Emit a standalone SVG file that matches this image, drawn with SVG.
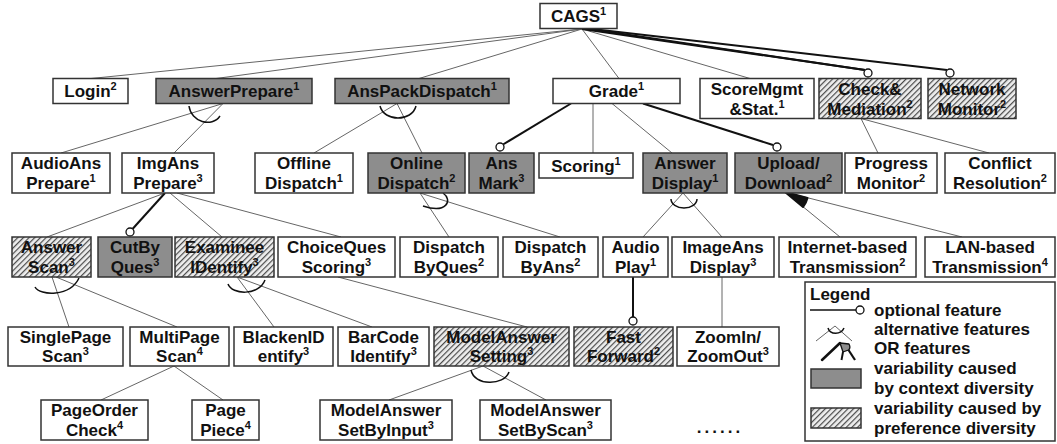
<svg xmlns="http://www.w3.org/2000/svg" width="1057" height="444" viewBox="0 0 1057 444">
<defs>
<pattern id="hatch" width="4" height="4" patternUnits="userSpaceOnUse" patternTransform="rotate(45)">
<rect width="4" height="4" fill="#eeeeee"/>
<line x1="0.6" y1="0" x2="0.6" y2="4" stroke="#4a4a4a" stroke-width="1.2"/>
</pattern>
<style>
.box{stroke:#333;stroke-width:1.5;fill:#fff}
.ctx{fill:#8d8d8d}
.pref{fill:url(#hatch)}
.t{font-family:"Liberation Sans",Arial,sans-serif;font-weight:bold;font-size:17px;text-anchor:middle;fill:#111}
.lg{font-family:"Liberation Sans",Arial,sans-serif;font-weight:bold;font-size:17px;fill:#111}
.sup{font-size:11px}
.thin{stroke:#666;stroke-width:1;fill:none}
.thick{stroke:#111;stroke-width:2;fill:none}
.opt{fill:#fff;stroke:#111;stroke-width:1.3}
.alt{stroke:#111;stroke-width:1.5;fill:none}
</style>
</defs>
<rect width="1057" height="444" fill="#fff"/>

<g id="connectors">
<line class="thin" x1="582" y1="29" x2="91" y2="78.5"/>
<line class="thin" x1="582" y1="29" x2="216" y2="78.5"/>
<line class="thin" x1="582" y1="29" x2="419" y2="78.5"/>
<line class="thin" x1="582" y1="29" x2="619" y2="78.5"/>
<line class="thin" x1="582" y1="29" x2="750" y2="78.5"/>
<line class="thick" x1="582" y1="29" x2="865" y2="70"/>
<line class="thick" x1="586" y1="28.5" x2="865" y2="70"/>
<line class="thick" x1="588" y1="28.5" x2="947" y2="70"/>
<circle class="opt" cx="868" cy="73" r="4"/>
<circle class="opt" cx="950" cy="73" r="4"/>

<line class="thin" x1="223" y1="103.5" x2="61" y2="153"/>
<line class="thin" x1="223" y1="103.5" x2="174" y2="153"/>
<path class="alt" d="M189,106 C191,122 212,128 220,116"/>

<line class="thin" x1="397" y1="103.5" x2="314" y2="153"/>
<line class="thin" x1="397" y1="103.5" x2="422" y2="153"/>
<path class="alt" d="M380,106 C384,122 412,122 416,106"/>

<line class="thick" x1="571" y1="103.5" x2="503" y2="144.5"/>
<circle class="opt" cx="500" cy="147" r="4"/>
<line class="thin" x1="593" y1="103.5" x2="593" y2="153"/>
<line class="thin" x1="612" y1="103.5" x2="672" y2="153"/>
<line class="thick" x1="643" y1="103.5" x2="773" y2="145"/>
<circle class="opt" cx="777" cy="147" r="4"/>

<line class="thin" x1="861" y1="118.5" x2="878" y2="153"/>
<line class="thin" x1="861" y1="118.5" x2="989" y2="153"/>

<line class="thin" x1="165" y1="193" x2="47" y2="237"/>
<line class="thick" x1="165" y1="193" x2="132.5" y2="229"/>
<circle class="opt" cx="130" cy="232" r="4"/>
<line class="thin" x1="170" y1="193" x2="222" y2="237"/>
<line class="thin" x1="177" y1="193" x2="341" y2="237"/>

<line class="thin" x1="420" y1="193" x2="449" y2="237"/>
<line class="thin" x1="420" y1="193" x2="560" y2="237"/>
<path class="alt" d="M443,193 C453,200 447,214 423,206"/>

<line class="thin" x1="683" y1="193" x2="643" y2="237"/>
<line class="thin" x1="683" y1="193" x2="722" y2="237"/>
<path class="alt" d="M671,199 A13,9 0 0,0 697,199"/>

<line class="thin" x1="785" y1="192" x2="840" y2="237"/>
<line class="thin" x1="785" y1="192" x2="962" y2="237"/>
<path d="M785,192 L803,207 A23,23 0 0,0 807.5,198 Z" fill="#111" stroke="#111" stroke-width="2" stroke-linejoin="round"/>

<line class="thick" x1="633" y1="277" x2="633" y2="317"/>
<circle class="opt" cx="633" cy="321" r="4"/>
<line class="thin" x1="722" y1="277" x2="722" y2="327"/>

<line class="thin" x1="338" y1="277" x2="527" y2="327"/>

<line class="thin" x1="52" y1="277" x2="69" y2="327"/>
<line class="thin" x1="56" y1="277" x2="177" y2="327"/>
<path class="alt" d="M35,287 C40,296 70,297 79,278"/>

<line class="thin" x1="237" y1="277" x2="274" y2="327"/>
<line class="thin" x1="237" y1="277" x2="372" y2="327"/>
<path class="alt" d="M228,284 C232,295 259,296 265,280"/>

<line class="thin" x1="483" y1="366" x2="389" y2="400"/>
<line class="thin" x1="483" y1="366" x2="546" y2="400"/>
<path class="alt" d="M471,370 C474,386 504,386 509,372"/>

<line class="thin" x1="174" y1="366" x2="101" y2="400"/>
<line class="thin" x1="174" y1="366" x2="223" y2="400"/>
</g>

<g id="n-cags"><rect class="box" x="540" y="3.5" width="77" height="25"/><text class="t" x="578.5" y="22">CAGS<tspan class="sup" dy="-7">1</tspan></text></g>

<g id="n-login"><rect class="box" x="53" y="78.5" width="75" height="25"/><text class="t" x="90.5" y="97">Login<tspan class="sup" dy="-7">2</tspan></text></g>
<g id="n-answerprepare"><rect class="box ctx" x="156" y="78.5" width="156" height="25"/><text class="t" x="234" y="97">AnswerPrepare<tspan class="sup" dy="-7">1</tspan></text></g>
<g id="n-anspackdispatch"><rect class="box ctx" x="335" y="78.5" width="174" height="25"/><text class="t" x="422" y="97">AnsPackDispatch<tspan class="sup" dy="-7">1</tspan></text></g>
<g id="n-grade"><rect class="box" x="553" y="78.5" width="127" height="25"/><text class="t" x="616.5" y="97">Grade<tspan class="sup" dy="-7">1</tspan></text></g>
<g id="n-scoremgmt"><rect class="box" x="700" y="78.5" width="114" height="40"/><text class="t" x="757" y="94.5">ScoreMgmt</text><text class="t" x="757" y="114.5">&amp;Stat.<tspan class="sup" dy="-7">1</tspan></text></g>
<g id="n-check"><rect class="box pref" x="819" y="78.5" width="102" height="40"/><text class="t" x="870" y="94.5">Check&amp;</text><text class="t" x="870" y="114.5">Mediation<tspan class="sup" dy="-7">2</tspan></text></g>
<g id="n-network"><rect class="box pref" x="928" y="78.5" width="88" height="40"/><text class="t" x="972" y="94.5">Network</text><text class="t" x="972" y="114.5">Monitor<tspan class="sup" dy="-7">2</tspan></text></g>

<g id="n-audioans"><rect class="box" x="12" y="153" width="98" height="40"/><text class="t" x="61" y="169">AudioAns</text><text class="t" x="61" y="189">Prepare<tspan class="sup" dy="-7">1</tspan></text></g>
<g id="n-imgans"><rect class="box" x="122" y="153" width="92" height="40"/><text class="t" x="168" y="169">ImgAns</text><text class="t" x="168" y="189">Prepare<tspan class="sup" dy="-7">3</tspan></text></g>
<g id="n-offline"><rect class="box" x="255" y="153" width="98" height="40"/><text class="t" x="304" y="169">Offline</text><text class="t" x="304" y="189">Dispatch<tspan class="sup" dy="-7">1</tspan></text></g>
<g id="n-online"><rect class="box ctx" x="368" y="153" width="97" height="40"/><text class="t" x="416.5" y="169">Online</text><text class="t" x="416.5" y="189">Dispatch<tspan class="sup" dy="-7">2</tspan></text></g>
<g id="n-ansmark"><rect class="box ctx" x="469" y="153" width="65" height="40"/><text class="t" x="501.5" y="169">Ans</text><text class="t" x="501.5" y="189">Mark<tspan class="sup" dy="-7">3</tspan></text></g>
<g id="n-scoring"><rect class="box" x="539" y="153" width="94" height="25"/><text class="t" x="586" y="171.5">Scoring<tspan class="sup" dy="-7">1</tspan></text></g>
<g id="n-ansdisplay"><rect class="box ctx" x="643" y="153" width="84" height="40"/><text class="t" x="685" y="169">Answer</text><text class="t" x="685" y="189">Display<tspan class="sup" dy="-7">1</tspan></text></g>
<g id="n-upload"><rect class="box ctx" x="735" y="153" width="107" height="40"/><text class="t" x="788.5" y="169">Upload/</text><text class="t" x="788.5" y="189">Download<tspan class="sup" dy="-7">2</tspan></text></g>
<g id="n-progress"><rect class="box" x="845" y="153" width="92" height="40"/><text class="t" x="891" y="169">Progress</text><text class="t" x="891" y="189">Monitor<tspan class="sup" dy="-7">2</tspan></text></g>
<g id="n-conflict"><rect class="box" x="945" y="153" width="110" height="40"/><text class="t" x="1000" y="169">Conflict</text><text class="t" x="1000" y="189">Resolution<tspan class="sup" dy="-7">2</tspan></text></g>

<g id="n-answerscan"><rect class="box pref" x="12" y="237" width="79" height="40"/><text class="t" x="51.5" y="253">Answer</text><text class="t" x="51.5" y="273">Scan<tspan class="sup" dy="-7">3</tspan></text></g>
<g id="n-cutby"><rect class="box ctx" x="98" y="237" width="74" height="40"/><text class="t" x="135" y="253">CutBy</text><text class="t" x="135" y="273">Ques<tspan class="sup" dy="-7">3</tspan></text></g>
<g id="n-examinee"><rect class="box pref" x="175" y="237" width="99" height="40"/><text class="t" x="224.5" y="253">Examinee</text><text class="t" x="224.5" y="273">IDentify<tspan class="sup" dy="-7">3</tspan></text></g>
<g id="n-choiceques"><rect class="box" x="278" y="237" width="117" height="40"/><text class="t" x="336.5" y="253">ChoiceQues</text><text class="t" x="336.5" y="273">Scoring<tspan class="sup" dy="-7">3</tspan></text></g>
<g id="n-dispatchbyques"><rect class="box" x="400" y="237" width="98" height="40"/><text class="t" x="449" y="253">Dispatch</text><text class="t" x="449" y="273">ByQues<tspan class="sup" dy="-7">2</tspan></text></g>
<g id="n-dispatchbyans"><rect class="box" x="503" y="237" width="95" height="40"/><text class="t" x="550.5" y="253">Dispatch</text><text class="t" x="550.5" y="273">ByAns<tspan class="sup" dy="-7">2</tspan></text></g>
<g id="n-audioplay"><rect class="box" x="603" y="237" width="65" height="40"/><text class="t" x="635.5" y="253">Audio</text><text class="t" x="635.5" y="273">Play<tspan class="sup" dy="-7">1</tspan></text></g>
<g id="n-imageansdisplay"><rect class="box" x="672" y="237" width="102" height="40"/><text class="t" x="723" y="253">ImageAns</text><text class="t" x="723" y="273">Display<tspan class="sup" dy="-7">3</tspan></text></g>
<g id="n-internet"><rect class="box" x="779" y="237" width="137" height="40"/><text class="t" x="847.5" y="253" textLength="120" lengthAdjust="spacingAndGlyphs">Internet-based</text><text class="t" x="847.5" y="273">Transmission<tspan class="sup" dy="-7">2</tspan></text></g>
<g id="n-lan"><rect class="box" x="925" y="237" width="130" height="40"/><text class="t" x="990" y="253">LAN-based</text><text class="t" x="990" y="273">Transmission<tspan class="sup" dy="-7">4</tspan></text></g>

<g id="n-singlepage"><rect class="box" x="8" y="327" width="115" height="39"/><text class="t" x="65.5" y="343">SinglePage</text><text class="t" x="65.5" y="362">Scan<tspan class="sup" dy="-7">3</tspan></text></g>
<g id="n-multipage"><rect class="box" x="130" y="327" width="99" height="39"/><text class="t" x="179.5" y="343">MultiPage</text><text class="t" x="179.5" y="362">Scan<tspan class="sup" dy="-7">4</tspan></text></g>
<g id="n-blacken"><rect class="box" x="234" y="327" width="99" height="39"/><text class="t" x="283.5" y="343">BlackenID</text><text class="t" x="283.5" y="362">entify<tspan class="sup" dy="-7">3</tspan></text></g>
<g id="n-barcode"><rect class="box" x="338" y="327" width="91" height="39"/><text class="t" x="383.5" y="343">BarCode</text><text class="t" x="383.5" y="362">Identify<tspan class="sup" dy="-7">3</tspan></text></g>
<g id="n-modelsetting"><rect class="box pref" x="434" y="327" width="135" height="39"/><text class="t" x="501.5" y="343">ModelAnswer</text><text class="t" x="501.5" y="362">Setting<tspan class="sup" dy="-7">3</tspan></text></g>
<g id="n-fastforward"><rect class="box pref" x="574" y="327" width="99" height="39"/><text class="t" x="623.5" y="343">Fast</text><text class="t" x="623.5" y="362">Forward<tspan class="sup" dy="-7">2</tspan></text></g>
<g id="n-zoom"><rect class="box" x="677" y="327" width="102" height="39"/><text class="t" x="728" y="343">ZoomIn/</text><text class="t" x="728" y="362">ZoomOut<tspan class="sup" dy="-7">3</tspan></text></g>

<g id="n-pageorder"><rect class="box" x="41" y="400" width="107" height="40"/><text class="t" x="94.5" y="416">PageOrder</text><text class="t" x="94.5" y="436">Check<tspan class="sup" dy="-7">4</tspan></text></g>
<g id="n-pagepiece"><rect class="box" x="192" y="400" width="67" height="40"/><text class="t" x="225.5" y="416">Page</text><text class="t" x="225.5" y="436">Piece<tspan class="sup" dy="-7">4</tspan></text></g>
<g id="n-setbyinput"><rect class="box" x="320" y="400" width="132" height="40"/><text class="t" x="386" y="416">ModelAnswer</text><text class="t" x="386" y="436">SetByInput<tspan class="sup" dy="-7">3</tspan></text></g>
<g id="n-setbyscan"><rect class="box" x="480" y="400" width="131" height="40"/><text class="t" x="545.5" y="416">ModelAnswer</text><text class="t" x="545.5" y="436">SetByScan<tspan class="sup" dy="-7">3</tspan></text></g>
<text class="t" x="720" y="433" letter-spacing="3">......</text>

<g id="legend">
<rect x="805" y="282" width="250" height="159" fill="#fff" stroke="#333" stroke-width="1.5"/>
<text class="lg" x="810" y="300">Legend</text>
<line x1="810" y1="310" x2="856" y2="310" stroke="#111" stroke-width="1.3"/>
<circle class="opt" cx="860" cy="310" r="4"/>
<text class="lg" x="874" y="316">optional feature</text>
<polyline points="816,341 835,326 852,341" fill="none" stroke="#666" stroke-width="1"/>
<path class="alt" d="M828,328 C830,335 841,335 844,328"/>
<text class="lg" x="874" y="335">alternative features</text>
<polyline points="822,360 840,343" fill="none" stroke="#111" stroke-width="2.5" stroke-linecap="round"/>
<path d="M840,343 L849,344 Q851,348 848.5,350 L843,352 Z" fill="#8d8d8d" stroke="#111" stroke-width="1.3" stroke-linejoin="round"/>
<line x1="843" y1="352" x2="841.5" y2="360" stroke="#111" stroke-width="2"/>
<line x1="848.5" y1="350" x2="855" y2="360" stroke="#111" stroke-width="2.2"/>
<text class="lg" x="874" y="354">OR features</text>
<rect x="811" y="369" width="50" height="19" fill="#8d8d8d" stroke="#333" stroke-width="1.5"/>
<text class="lg" x="874" y="374">variability caused</text>
<text class="lg" x="874" y="394">by context diversity</text>
<rect x="811" y="408" width="50" height="20" fill="url(#hatch)" stroke="#333" stroke-width="1.5"/>
<text class="lg" x="874" y="414">variability caused by</text>
<text class="lg" x="874" y="434">preference diversity</text>
</g>
</svg>
